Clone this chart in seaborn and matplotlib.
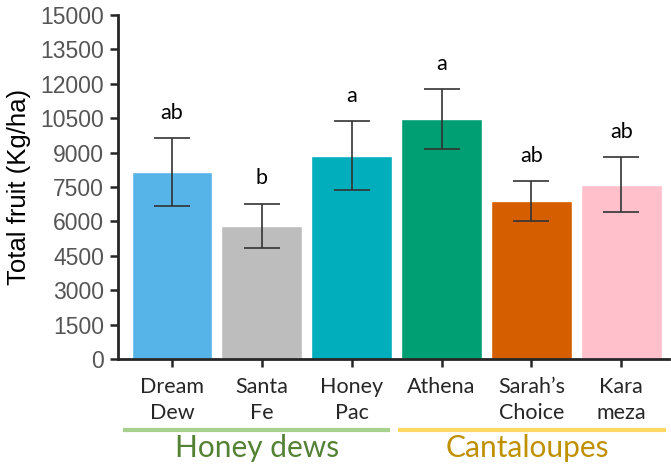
import matplotlib
matplotlib.use("Agg")
import matplotlib.pyplot as plt
import pandas as pd
import seaborn as sns

# Данные с графика
cultivars = ["Dream\nDew", "Santa\nFe", "Honey\nPac", "Athena", "Sarah’s\nChoice", "Kara\nmeza"]
yield_kg = [8150, 5810, 8860, 10450, 6880, 7600]
yield_err = [1480, 960, 1510, 1310, 880, 1210]
letters = ["ab", "b", "a", "a", "ab", "ab"]
bar_colors = ["#56B4E9", "#BDBDBD", "#00AFBB", "#009E73", "#D55E00", "#FFBFCB"]
y_ticks = list(range(0, 15001, 1500))

groups = ["Honey dews", "Cantaloupes"]
group_members = [[0, 1, 2], [3, 4, 5]]
group_line_colors = ["#A9D18E", "#FFD966"]
group_text_colors = ["#548235", "#BF9000"]

sns.set_style("ticks")
plt.rcParams["font.family"] = ["Liberation Sans", "DejaVu Sans"]
label_font = ["Lato", "DejaVu Sans"]

df = pd.DataFrame({"cultivar": cultivars, "yield": yield_kg, "err": yield_err})

fig = plt.figure(figsize=(6.71, 4.65), dpi=100)
ax = fig.add_axes([0.176, 0.228, 0.821, 0.74])

sns.barplot(data=df, x="cultivar", y="yield", hue="cultivar", palette=bar_colors,
            width=0.9, saturation=1, errorbar=None, legend=False, ax=ax)
ax.errorbar(range(len(cultivars)), yield_kg, yerr=yield_err, fmt="none",
            ecolor="#333333", elinewidth=1.2, capsize=13, capthick=1.2)

for i, (v, e, t) in enumerate(zip(yield_kg, yield_err, letters)):
    ax.text(i, v + e + 1100, t, ha="center", va="center", fontsize=15.5,
            family=label_font, color="black")

ax.set_ylim(0, 15000)
ax.set_xlim(-0.6, 5.53)
ax.set_yticks(y_ticks)
ax.tick_params(axis="y", labelsize=16.5, labelcolor="#555555", length=6, width=1.8, pad=4)
ax.tick_params(axis="x", labelsize=15.5, length=6, width=1.8, pad=7)
for lab in ax.get_xticklabels():
    lab.set_family(label_font)
    lab.set_linespacing(1.35)
ax.set_xlabel("")
ax.set_ylabel("Total fruit (Kg/ha)", fontsize=18.5, color="black", labelpad=7)
for s in ["left", "bottom"]:
    ax.spines[s].set_linewidth(2)
sns.despine(ax=ax)

# Подписи групп с цветными линиями (небольшой зазор между линиями)
trans = ax.get_xaxis_transform()
line_pad = [(0.55, 0.43), (0.48, 0.5)]
for name, members, lc, tc, (pl, pr) in zip(groups, group_members, group_line_colors,
                                           group_text_colors, line_pad):
    x0, x1 = members[0] - pl, members[-1] + pr
    ax.plot([x0, x1], [-0.205, -0.205], transform=trans, color=lc, lw=3,
            clip_on=False, solid_capstyle="butt")
    ax.text((members[0] + members[-1]) / 2 - 0.05, -0.284, name, transform=trans,
            ha="center", va="baseline", fontsize=21.5, family=label_font, color=tc)

fig.savefig("out.png", dpi=100)
